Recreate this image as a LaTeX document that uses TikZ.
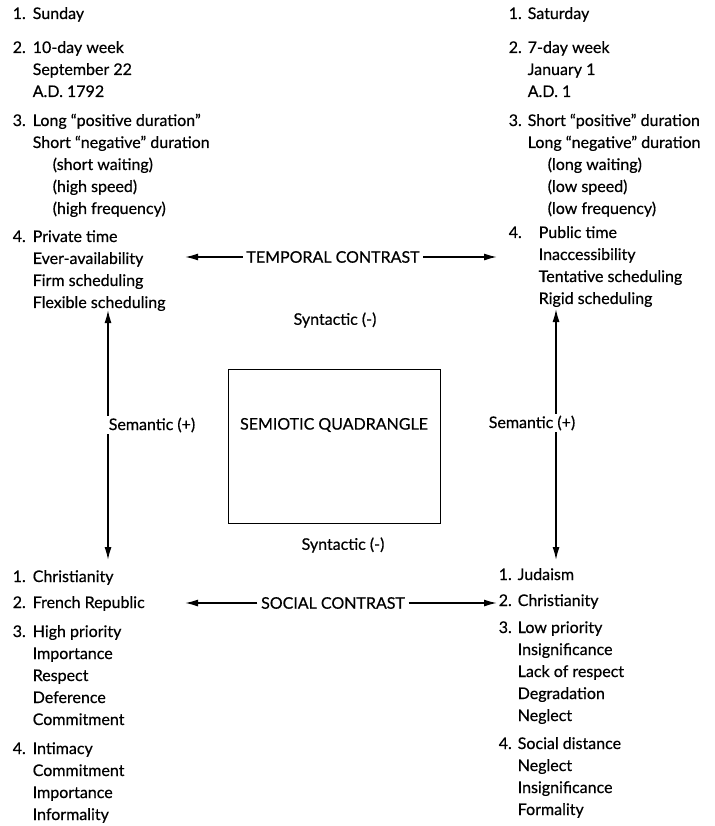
\documentclass[tikz,border=0pt]{standalone}
\usepackage{fontspec}
\setmainfont{Lato}[FakeBold=0.5]
\usetikzlibrary{arrows.meta}
\begin{document}
\begin{tikzpicture}[x=1pt, y=-1pt, >={Latex[length=13pt,width=7pt]}, line width=1.5pt,
  every node/.style={font=\fontsize{16}{22}\selectfont, inner sep=3pt},
  block/.style={anchor=base west, inner sep=0pt},
  tag/.style={fill=white, inner sep=2pt}]
  \useasboundingbox (0,0) rectangle (714,826);
  % Upper left corner
  \node[block] (tl) at (12,19) {\begin{tabular}[t]{@{}p{20pt}@{}l@{}}
    1. & Sunday\\[12pt]
    2. & 10-day week\\
       & September 22\\
       & A.D. 1792\\[7pt]
    3. & Long “positive duration”\\
       & Short “negative” duration\\
       & \hspace*{20pt}(short waiting)\\
       & \hspace*{20pt}(high speed)\\
       & \hspace*{20pt}(high frequency)\\[6pt]
    4. & Private time\\
       & Ever-availability\\
       & Firm scheduling\\
       & Flexible scheduling
  \end{tabular}};
  % Upper right corner
  \node[block] (tr) at (508,19) {\begin{tabular}[t]{@{}p{19pt}@{}l@{}}
    1. & Saturday\\[12pt]
    2. & 7-day week\\
       & January 1\\
       & A.D. 1\\[7pt]
    3. & Short “positive” duration\\
       & Long “negative” duration\\
       & \hspace*{20pt}(long waiting)\\
       & \hspace*{20pt}(low speed)\\
       & \hspace*{20pt}(low frequency)\\[2pt]
    4. & \hspace*{11pt}Public time\\
       & \hspace*{11pt}Inaccessibility\\
       & \hspace*{11pt}Tentative scheduling\\
       & \hspace*{11pt}Rigid scheduling
  \end{tabular}};
  % Lower left corner
  \node[block] (bl) at (12,582) {\begin{tabular}[t]{@{}p{20pt}@{}l@{}}
    1. & Christianity\\[4pt]
    2. & French Republic\\[7pt]
    3. & High priority\\
       & Importance\\
       & Respect\\
       & Deference\\
       & Commitment\\[7pt]
    4. & Intimacy\\
       & Commitment\\
       & Importance\\
       & Informality
  \end{tabular}};
  % Lower right corner
  \node[block] (br) at (498,580) {\begin{tabular}[t]{@{}p{19pt}@{}l@{}}
    1. & Judaism\\[4pt]
    2. & Christianity\\[5pt]
    3. & Low priority\\
       & Insignificance\\
       & Lack of respect\\
       & Degradation\\
       & Neglect\\[6pt]
    4. & Social distance\\
       & Neglect\\
       & Insignificance\\
       & Formality
  \end{tabular}};
  % Centre box
  \node[draw, line width=1pt, minimum width=212pt, minimum height=154pt, anchor=north] (quad) at (334,369) {};
  \node (quadlbl) at (334,425) {SEMIOTIC QUADRANGLE};
  \node (syntop) at (335,320) {Syntactic (-)};
  \node (synbot) at (343,545) {Syntactic (-)};
  % Horizontal contrasts
  \node (temporal) at (333,257) {TEMPORAL CONTRAST};
  \coordinate (templ) at (185,257);
  \coordinate (tempr) at (497,257);
  \draw[->] (temporal.west) -- (templ);
  \draw[->] (temporal.east) -- (tempr);
  \node (social) at (333,603) {SOCIAL CONTRAST};
  \coordinate (socl) at (185,603);
  \coordinate (socr) at (497,603);
  \draw[->] (social.west) -- (socl);
  \draw[->] (social.east) -- (socr);
  % Vertical semantic arrows
  \coordinate (lefttop) at (108,310);
  \coordinate (leftbot) at (108,560);
  \coordinate (righttop) at (556,309);
  \coordinate (rightbot) at (556,560);
  \draw[<->] (lefttop) -- (leftbot);
  \draw[<->] (righttop) -- (rightbot);
  \node[tag] (semleft) at (152,425) {Semantic (+)};
  \node[tag] (semright) at (532,423) {Semantic (+)};
\end{tikzpicture}
\end{document}
